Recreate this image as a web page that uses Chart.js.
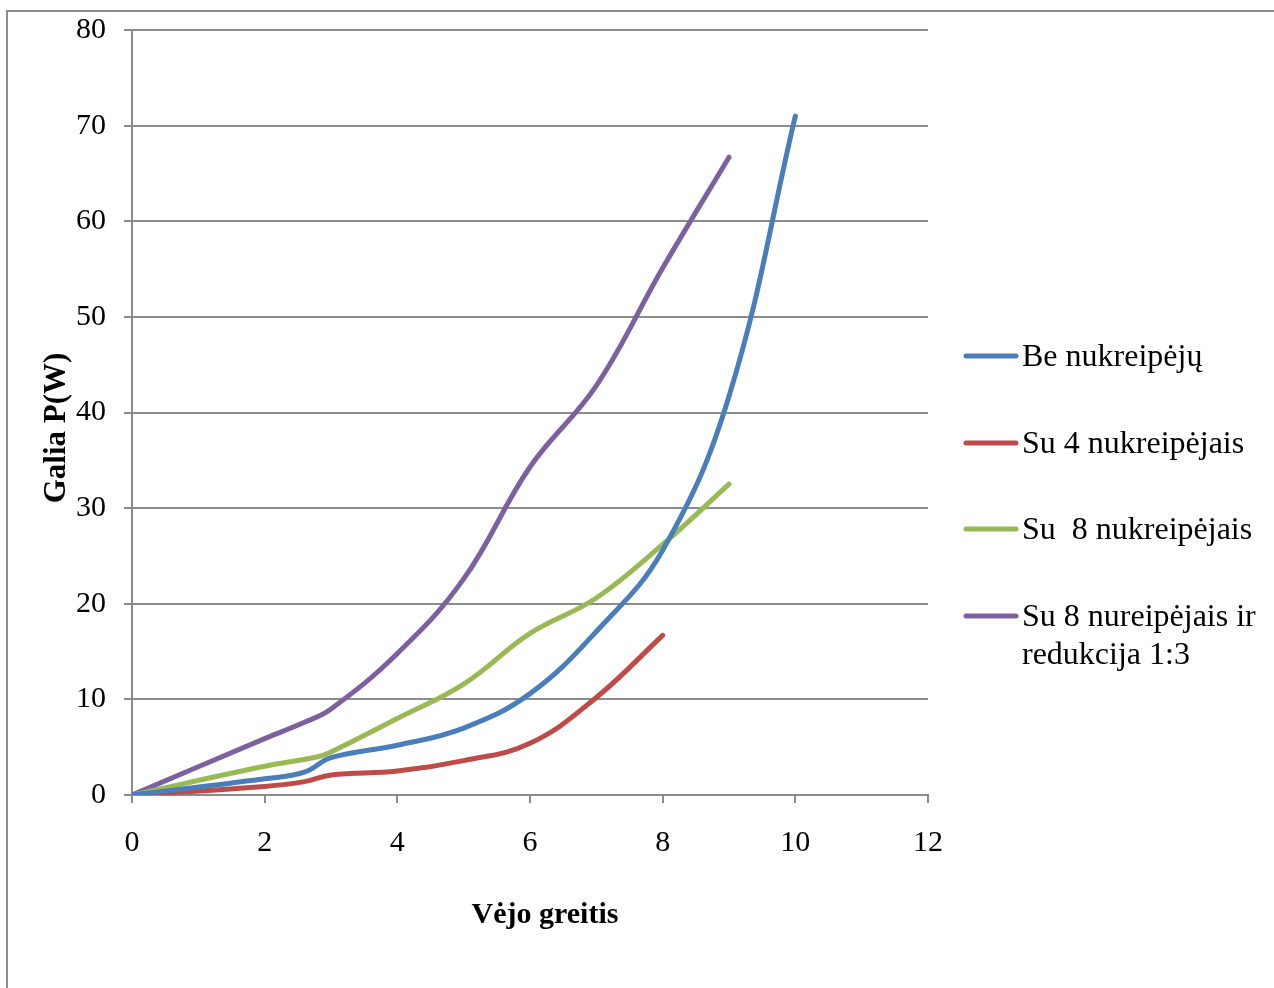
<!DOCTYPE html>
<html>
<head>
<meta charset="utf-8">
<script src="https://cdn.jsdelivr.net/npm/chart.js@4.4.1/dist/chart.umd.min.js"></script>
<style>
  html, body { margin: 0; padding: 0; background: #fff; overflow: hidden; }
  #frame { position: absolute; left: 6px; top: 10px; width: 3000px; height: 3000px;
           border-left: 2px solid #8c8c8c; border-top: 2px solid #8c8c8c; }
  #wrap { position: absolute; left: 0; top: 0; width: 1274px; height: 988px; }
</style>
</head>
<body>
<div id="frame"></div>
<div id="wrap"><canvas id="c" width="1274" height="988"></canvas></div>
<script>
// ---- data ----
const xBlue   = [0, 2, 2.6, 3, 4, 5, 6, 7, 8, 9, 10];
const yBlue   = [0, 1.7, 2.4, 3.9, 5.2, 7.0, 10.6, 17.1, 25.6, 41.7, 71.0];
const xRed    = [0, 2, 2.6, 3, 4, 5, 6, 7, 8];
const yRed    = [0, 0.9, 1.4, 2.1, 2.5, 3.6, 5.4, 10.2, 16.7];
const xGreen  = [0, 2, 2.8, 3, 4, 5, 6, 7, 8, 9];
const yGreen  = [0, 3.0, 4.0, 4.5, 8.0, 11.6, 16.9, 20.6, 26.2, 32.5];
const xPurple = [0, 2, 2.6, 3, 4, 5, 6, 7, 8, 9];
const yPurple = [0, 5.9, 7.6, 9.0, 14.8, 22.6, 34.3, 42.8, 55.1, 66.7];

const seriesNames = [
  ["Be nukreipėjų"],
  ["Su 4 nukreipėjais"],
  ["Su  8 nukreipėjais"],
  ["Su 8 nureipėjais ir", "redukcija 1:3"]
];
const seriesColors = ["#4A7EBB", "#BE4B48", "#98B954", "#7D60A0"];
const xTicks = [0, 2, 4, 6, 8, 10, 12];
const yTicks = [0, 10, 20, 30, 40, 50, 60, 70, 80];
const xTitle = "Vėjo greitis";
const yTitle = "Galia P(W)";

const FONT = "'Liberation Serif', 'Times New Roman', serif";
const GRID = "#8c8c8c";

function pts(xs, ys) { return xs.map((x, i) => ({ x: x, y: ys[i] })); }
const allX = [xBlue, xRed, xGreen, xPurple];
const allY = [yBlue, yRed, yGreen, yPurple];

const datasets = allX.map((xs, i) => ({
  label: seriesNames[i].join(" "),
  data: pts(xs, allY[i]),
  borderColor: seriesColors[i],
  backgroundColor: seriesColors[i],
  borderWidth: 5,
  borderCapStyle: 'round',
  borderJoinStyle: 'round',
  pointRadius: 0,
  showLine: true,
  tension: 0.4,
  fill: false
}));

const overlay = {
  id: 'overlay',
  afterDraw(chart) {
    const ctx = chart.ctx;
    ctx.save();
    // legend
    const lx0 = 966, lx1 = 1016, tx = 1022;
    const ys = [356, 443, 529, 616];
    ctx.font = "32px " + FONT;
    ctx.textBaseline = 'middle';
    ctx.textAlign = 'left';
    seriesNames.forEach((lines, i) => {
      ctx.strokeStyle = seriesColors[i];
      ctx.lineWidth = 5;
      ctx.lineCap = 'round';
      ctx.beginPath();
      ctx.moveTo(lx0, ys[i]);
      ctx.lineTo(lx1, ys[i]);
      ctx.stroke();
      ctx.fillStyle = '#000';
      lines.forEach((t, k) => ctx.fillText(t, tx, ys[i] + 2 + k * 38));
    });
    // axis titles
    ctx.fillStyle = '#000';
    ctx.font = "bold 30px " + FONT;
    ctx.textAlign = 'center';
    ctx.fillText(xTitle, 545, 915);
    ctx.font = "bold 31px " + FONT;
    ctx.translate(57, 428);
    ctx.rotate(-Math.PI / 2);
    ctx.fillText(yTitle, 0, 0);
    ctx.restore();
  }
};

new Chart(document.getElementById('c'), {
  type: 'scatter',
  data: { datasets: datasets },
  options: {
    responsive: false,
    animation: false,
    layout: { padding: { left: 0, top: 30, right: 346, bottom: 0 } },
    plugins: { legend: { display: false }, tooltip: { enabled: false } },
    scales: {
      x: {
        type: 'linear', min: 0, max: 12,
        afterFit(s) { s.height = 193; s.paddingLeft = 0; s.paddingRight = 0; },
        afterBuildTicks(s) { s.ticks = xTicks.map(v => ({ value: v })); },
        grid: { drawOnChartArea: false, drawTicks: true, tickLength: 8, color: GRID, lineWidth: 2 },
        border: { display: true, color: GRID, width: 2 },
        ticks: { color: '#000', font: { family: FONT, size: 30 }, padding: 22, maxRotation: 0 }
      },
      y: {
        type: 'linear', min: 0, max: 80,
        afterFit(s) { s.width = 132; s.paddingTop = 0; s.paddingBottom = 0; },
        afterBuildTicks(s) { s.ticks = yTicks.map(v => ({ value: v })); },
        grid: { drawOnChartArea: true, drawTicks: true, tickLength: 8, color: GRID, lineWidth: 2 },
        border: { display: true, color: GRID, width: 2 },
        ticks: { color: '#000', font: { family: FONT, size: 30 }, padding: 18 }
      }
    }
  },
  plugins: [overlay]
});
</script>
</body>
</html>
